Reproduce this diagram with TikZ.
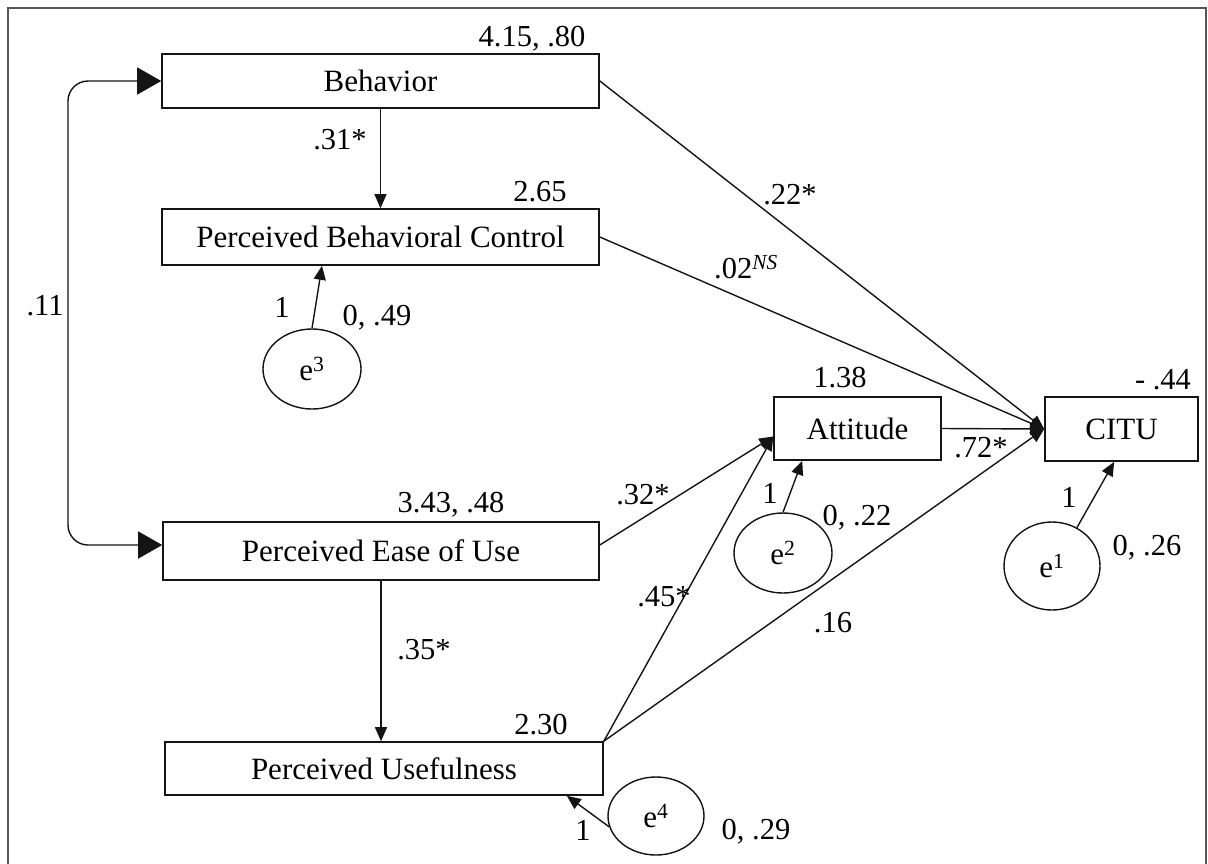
\documentclass[tikz,border=0pt]{standalone}
\usepackage{fontspec}
\setmainfont{Liberation Serif}
\usetikzlibrary{shapes.geometric, arrows.meta, positioning, calc}
\definecolor{mydark}{RGB}{20,20,20}
\definecolor{myframe}{RGB}{85,85,85}
\tikzset{
  var/.style={rectangle, draw=mydark, line width=1.6pt, inner sep=0pt,
    font=\fontsize{31}{36}\selectfont},
  err/.style={ellipse, draw=mydark, line width=1.4pt, inner sep=0pt,
    font=\fontsize{31}{36}\selectfont},
  lbl/.style={inner sep=0pt, font=\fontsize{30.5}{36}\selectfont},
  arrow/.style={-{Triangle[length=14pt,width=12pt]}, line width=1.4pt, color=mydark},
  corrarrow/.style={{Triangle[length=24pt,width=27pt]}-{Triangle[length=24pt,width=27pt]},
    line width=1.4pt, color=mydark, rounded corners=20pt}
}

\begin{document}
\begin{tikzpicture}[x=1pt, y=-1pt]
  \useasboundingbox (0,0) rectangle (1208,863);
  \draw[myframe, line width=2.4pt] (8,8) rectangle (1206,885);

  % Observed variables
  \node[var, minimum width=437pt, minimum height=54pt] (beh) at (380.5,81) {Behavior};
  \node[var, minimum width=437pt, minimum height=56pt] (pbc) at (380.5,237) {Perceived Behavioral Control};
  \node[var, minimum width=436pt, minimum height=58pt] (peou) at (381,551) {Perceived Ease of Use};
  \node[var, minimum width=438pt, minimum height=53pt] (pu) at (384,768.5) {Perceived Usefulness};
  \node[var, minimum width=167pt, minimum height=63pt] (att) at (857.5,428.5) {Attitude};
  \node[var, minimum width=153pt, minimum height=64pt] (citu) at (1121.5,429) {CITU};

  % Error terms
  \node[err, minimum width=98pt, minimum height=80pt] (e3) at (312,369) {e\textsuperscript{3}};
  \node[err, minimum width=98pt, minimum height=80pt] (e2) at (783,553) {e\textsuperscript{2}};
  \node[err, minimum width=96pt, minimum height=88pt] (e1) at (1052,566) {e\textsuperscript{1}};
  \node[err, minimum width=96pt, minimum height=78pt] (e4) at (656,816) {e\textsuperscript{4}};

  % Paths
  \draw[arrow] (beh.south) -- (pbc.north);
  \draw[arrow] (peou.south) -- (peou.south |- pu.north);
  \draw[arrow] (beh.east) -- (citu.west);
  \draw[arrow] (pbc.east) -- (citu.west);
  \draw[arrow] (att.east) -- (citu.west);
  \draw[arrow] (pu.north east) -- (citu.west);
  \draw[arrow] (pu.north east) -- ([yshift=-8pt]att.west);
  \draw[arrow] ([yshift=6pt]peou.east) -- ([yshift=-8pt]att.west);
  \draw[corrarrow] (beh.west) -| (68,300) |- ([yshift=6pt]peou.west);

  % Error paths
  \draw[arrow] (e3.north) -- ([xshift=-58.5pt]pbc.south);
  \draw[arrow] (e2.north) -- ([xshift=29pt]att.south west);
  \draw[arrow] (e1.57) -- ([xshift=70pt]citu.south west);
  \draw[arrow] (e4.193) -- ([xshift=-37pt]pu.south east);

  % Estimates
  \node[lbl] (mbeh) at (532,39) {4.15, .80};
  \node[lbl] (mpbc) at (540,192) {2.65};
  \node[lbl] (mpeou) at (451,505) {3.43, .48};
  \node[lbl] (mpu) at (541,725) {2.30};
  \node[lbl] (matt) at (840,378) {1.38};
  \node[lbl] (mcitu) at (1163,380) {- .44};
  \node[lbl] (wbp) at (340,140) {.31*};
  \node[lbl] (wcor) at (45,306) {.11};
  \node[lbl] (wbc) at (790,195) {.22*};
  \node[lbl] (wpc) at (746,267) {.02\textsuperscript{\textit{NS}}};
  \node[lbl] (wac) at (981,448) {.72*};
  \node[lbl] (wea) at (643,495) {.32*};
  \node[lbl] (wua) at (664,597) {.45*};
  \node[lbl] (wuc) at (833,623) {.16};
  \node[lbl] (weu) at (424,650) {.35*};

  % Error labels
  \node[lbl] (l3) at (282,307) {1};
  \node[lbl] (v3) at (377,318) {0, .49};
  \node[lbl] (l2) at (770,493) {1};
  \node[lbl] (v2) at (857,518) {0, .22};
  \node[lbl] (l1) at (1069,497) {1};
  \node[lbl] (v1) at (1147,548) {0, .26};
  \node[lbl] (l4) at (583,830) {1};
  \node[lbl] (v4) at (756,832) {0, .29};
\end{tikzpicture}
\end{document}
